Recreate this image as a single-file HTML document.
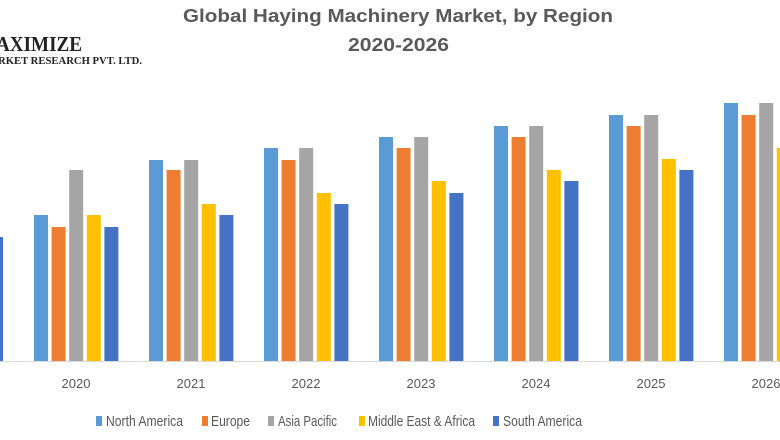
<!DOCTYPE html>
<html><head><meta charset="utf-8"><style>
html,body{margin:0;padding:0;background:#fff;width:780px;height:440px;overflow:hidden}
</style></head><body>
<svg width="780" height="440" xmlns="http://www.w3.org/2000/svg" font-family="Liberation Sans, sans-serif">
<text x="183" y="22" font-size="18" font-weight="bold" fill="#595959" textLength="430" lengthAdjust="spacingAndGlyphs">Global Haying Machinery Market, by Region</text>
<text x="348" y="51" font-size="18" font-weight="bold" fill="#595959" textLength="101" lengthAdjust="spacingAndGlyphs">2020-2026</text>
<text x="-4" y="51" style="font-family:'Liberation Serif',serif" font-size="21" font-weight="bold" fill="#222" textLength="86" lengthAdjust="spacingAndGlyphs">AXIMIZE</text>
<text x="-2" y="64" style="font-family:'Liberation Serif',serif" font-size="11" font-weight="bold" fill="#222" textLength="144" lengthAdjust="spacingAndGlyphs">RKET RESEARCH PVT. LTD.</text>
<line x1="0" y1="361.5" x2="780" y2="361.5" stroke="#d9d9d9" stroke-width="1"/>
<rect x="0" y="237" width="3" height="124" fill="#4472c4"/>
<g id="bars"></g>
<g font-size="13" fill="#595959" text-anchor="middle">
<text x="76" y="388">2020</text><text x="191" y="388">2021</text><text x="306" y="388">2022</text><text x="421" y="388">2023</text><text x="536" y="388">2024</text><text x="651" y="388">2025</text><text x="766" y="388">2026</text>
</g>
<g font-size="15" fill="#595959">
<rect x="96" y="416" width="6" height="10" fill="#5b9bd5"/><text x="106" y="426" textLength="77" lengthAdjust="spacingAndGlyphs">North America</text>
<rect x="202" y="416" width="6" height="10" fill="#ed7d31"/><text x="211" y="426" textLength="39" lengthAdjust="spacingAndGlyphs">Europe</text>
<rect x="268" y="416" width="6" height="10" fill="#a5a5a5"/><text x="278" y="426" textLength="59" lengthAdjust="spacingAndGlyphs">Asia Pacific</text>
<rect x="359" y="416" width="6" height="10" fill="#ffc000"/><text x="368" y="426" textLength="107" lengthAdjust="spacingAndGlyphs">Middle East &amp; Africa</text>
<rect x="493" y="416" width="6" height="10" fill="#4472c4"/><text x="503" y="426" textLength="79" lengthAdjust="spacingAndGlyphs">South America</text>
</g>
</svg>
<script>
var tops=[[215,227,170,215,227],[160,170,160,204,215],[148,160,148,193,204],[137,148,137,181,193],[126,137,126,170,181],[115,126,115,159,170],[103,115,103,148,159]];
var cols=["#5b9bd5","#ed7d31","#a5a5a5","#ffc000","#4472c4"];
var g=document.getElementById("bars"),s="";
for(var i=0;i<7;i++)for(var j=0;j<5;j++){var x=34+i*115+j*17.6,y=tops[i][j];
s+='<rect x="'+x+'" y="'+y+'" width="14" height="'+(361-y)+'" fill="'+cols[j]+'"/>';}
g.innerHTML=s;
</script>
</body></html>
